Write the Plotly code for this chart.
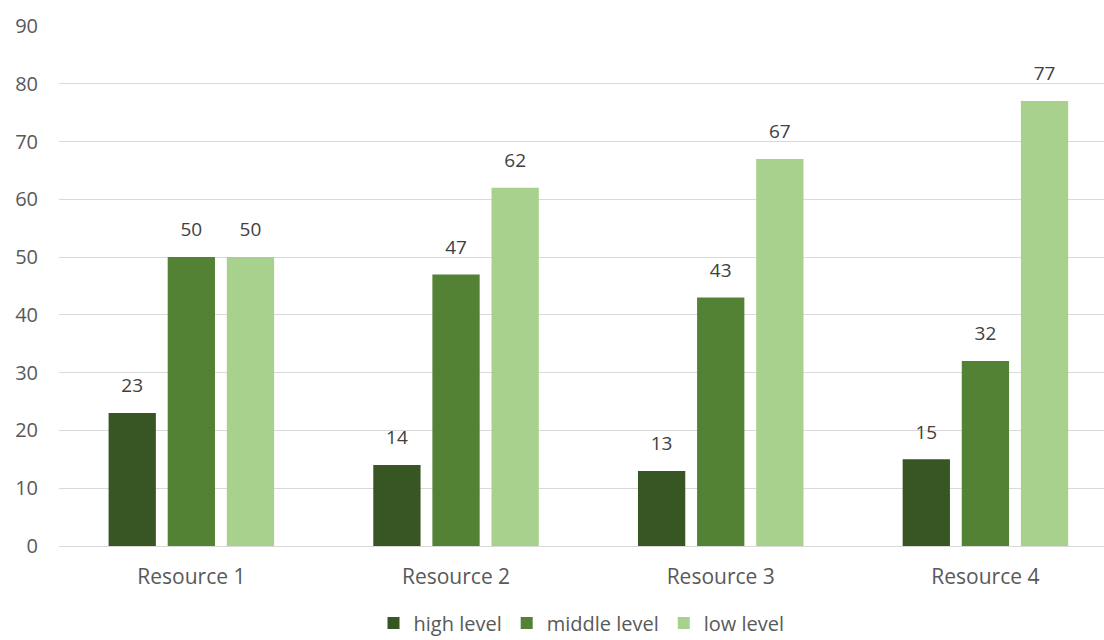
import plotly.graph_objects as go

categories = ["Resource 1", "Resource 2", "Resource 3", "Resource 4"]
series_names = ["high level", "middle level", "low level"]
high_level = [23, 14, 13, 15]
middle_level = [50, 47, 43, 32]
low_level = [50, 62, 67, 77]
y_ticks = [0, 10, 20, 30, 40, 50, 60, 70, 80, 90]

colors = ["#375623", "#548235", "#A9D18E"]
values = [high_level, middle_level, low_level]
FONT = "Open Sans"

fig = go.Figure()
for i, (name, vals) in enumerate(zip(series_names, values)):
    fig.add_trace(go.Bar(
        x=categories, y=vals, name=name, offsetgroup=str(i),
        marker=dict(color=colors[i], line=dict(color=colors[i], width=0)),
    ))
for i, (name, vals) in enumerate(zip(series_names, values)):
    fig.add_trace(go.Scatter(
        x=categories, y=vals, offsetgroup=str(i), mode="markers+text",
        text=[str(v) for v in vals], textposition="top center",
        textfont=dict(family=FONT, size=19, color="#404040"),
        marker=dict(size=24, opacity=0), showlegend=False, hoverinfo="skip",
    ))

fig.update_layout(
    width=1104, height=640,
    margin=dict(l=59, r=0, t=26, b=94, autoexpand=False),
    paper_bgcolor="white", plot_bgcolor="white",
    barmode="group", bargap=0.33, bargroupgap=0.2,
    scattermode="group", scattergap=0.33,
    font=dict(family=FONT, size=20, color="#595959"),
    showlegend=True,
    legend=dict(orientation="h", x=0.5, xanchor="center", y=-0.148, yanchor="middle",
                font=dict(family=FONT, size=20, color="#595959"), itemwidth=30,
                traceorder="normal"),
    xaxis=dict(range=[-0.5, 3.448], showgrid=False, showline=False, zeroline=False,
               ticks="", ticklabelstandoff=16, automargin=False,
               tickfont=dict(size=21, color="#595959")),
    yaxis=dict(range=[0, 90], tickvals=y_ticks, showgrid=True, gridcolor="#D9D9D9",
               gridwidth=1, zeroline=True, zerolinecolor="#D9D9D9", zerolinewidth=1,
               showline=False, ticks="", ticklabelstandoff=20, automargin=False,
               tickfont=dict(size=20, color="#595959")),
)

fig.write_html("out.html")
